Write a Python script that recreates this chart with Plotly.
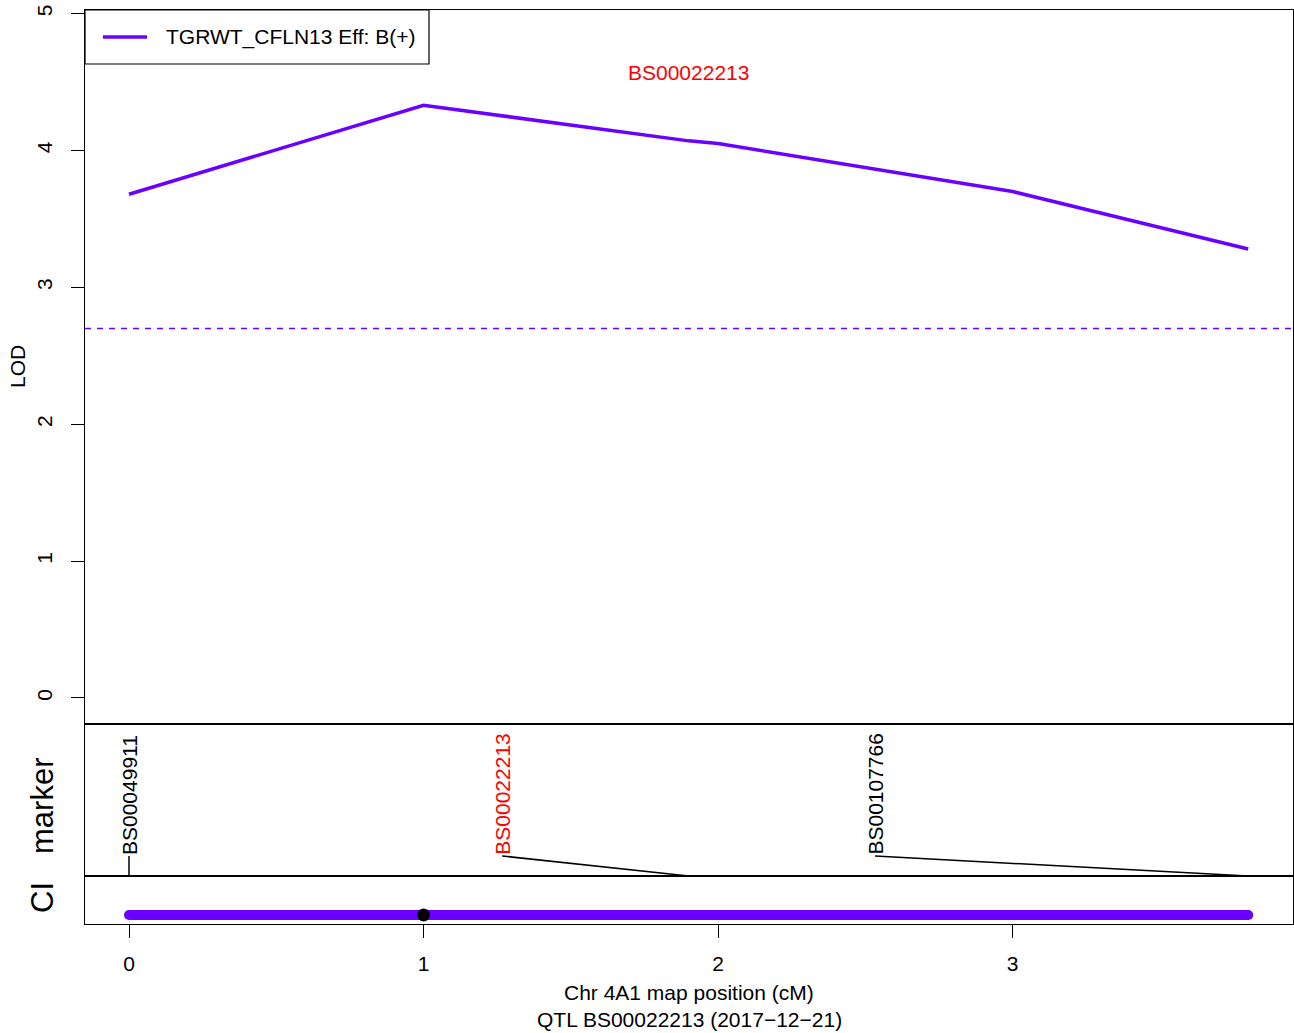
import plotly.graph_objects as go

# ---- data ----
lod_pos = [0.0, 1.0, 1.9, 2.0, 3.0, 3.8]
lod_val = [3.68, 4.33, 4.07, 4.05, 3.70, 3.28]
threshold = 2.70
trait_name = "TGRWT_CFLN13 Eff: B(+)"

marker_names = ["BS00049911", "BS00022213", "BS00107766"]
marker_pos = [0.0, 1.9, 3.8]
marker_label_pos = [0.0, 1.267, 2.533]
marker_colors = ["black", "red", "black"]
peak_marker = "BS00022213"
peak_marker_pos = 1.9
peak_label_lod = 4.57

ci_range = [0.0, 3.8]
peak_pos = 1.0

x_ticks = [0, 1, 2, 3]
y_ticks = [0, 1, 2, 3, 4, 5]

PURPLE = "#6A00FF"
FONT = "Liberation Sans, Arial, sans-serif"
FS = 21

W, H = 1294, 1033
L, R, T, B = 85, 1, 10, 109
plot_h = H - T - B  # 914
plot_w = W - L - R

def py(px_y):
    return (H - B - px_y) / plot_h

def px(px_x):
    return (px_x - L) / plot_w

fig = go.Figure()

# LOD curve
fig.add_trace(go.Scatter(x=lod_pos, y=lod_val, mode="lines",
                         line=dict(color=PURPLE, width=3.5),
                         xaxis="x", yaxis="y", showlegend=False, hoverinfo="skip"))

# marker connectors
mx, my = [], []
for lp, mp in zip(marker_label_pos, marker_pos):
    mx += [lp, mp, None]
    my += [0.1316, 0.0, None]
fig.add_trace(go.Scatter(x=mx, y=my, mode="lines", line=dict(color="black", width=1.5),
                         xaxis="x2", yaxis="y2", showlegend=False, hoverinfo="skip"))

# CI bar
fig.add_trace(go.Scatter(x=ci_range, y=[0.1875, 0.1875], mode="lines+markers",
                         line=dict(color=PURPLE, width=10),
                         marker=dict(color=PURPLE, size=10),
                         xaxis="x3", yaxis="y3", showlegend=False, hoverinfo="skip"))
fig.add_trace(go.Scatter(x=[peak_pos], y=[0.1875], mode="markers",
                         marker=dict(color="black", size=13),
                         xaxis="x3", yaxis="y3", showlegend=False, hoverinfo="skip"))

xr = [-0.1494, 3.952]
d_top = [py(724), 1.0]
d_mid = [py(876), py(724)]
d_bot = [0.0, py(876)]

axline = dict(showline=True, mirror=True, linecolor="black", linewidth=1.2,
              showgrid=False, zeroline=False)

fig.update_layout(
    width=W, height=H, autosize=False,
    margin=dict(l=L, r=R, t=T, b=B, pad=0),
    paper_bgcolor="white", plot_bgcolor="white",
    font=dict(family=FONT, size=FS, color="black"),
    xaxis=dict(range=xr, domain=[0, 1], anchor="y", showticklabels=False, ticks="", **axline),
    xaxis2=dict(range=xr, domain=[0, 1], anchor="y2", showticklabels=False, ticks="", **axline),
    xaxis3=dict(range=xr, domain=[0, 1], anchor="y3", tickvals=x_ticks,
                ticktext=[str(v) for v in x_ticks], ticks="outside", ticklen=13,
                tickwidth=1.2, tickcolor="black", ticklabelstandoff=8,
                tickfont=dict(size=FS), **axline),
    yaxis=dict(range=[-0.19, 5.026], domain=d_top, anchor="x", tickvals=y_ticks,
               ticktext=[str(v) for v in y_ticks], ticks="outside", ticklen=13,
               tickwidth=1.2, tickcolor="black", tickangle=-90, ticklabelstandoff=11,
               tickfont=dict(size=FS), **axline),
    yaxis2=dict(range=[0, 1], domain=d_mid, anchor="x2", showticklabels=False, ticks="", **axline),
    yaxis3=dict(range=[0, 1], domain=d_bot, anchor="x3", showticklabels=False, ticks="", **axline),
)

# threshold
fig.add_shape(type="line", xref="x domain", yref="y", x0=0, x1=1, y0=threshold, y1=threshold,
              line=dict(color=PURPLE, width=1.5, dash="6px,6px"))

# legend (manual, R-style)
fig.add_shape(type="rect", xref="paper", yref="paper", x0=0, x1=px(429), y0=py(64), y1=1.0,
              line=dict(color="black", width=1.2), fillcolor="white")
fig.add_shape(type="line", xref="paper", yref="paper", x0=px(103), x1=px(147), y0=py(37), y1=py(37),
              line=dict(color=PURPLE, width=3.5))
fig.add_annotation(text=trait_name, xref="paper", yref="paper", x=px(164), y=py(37),
                   xanchor="left", yanchor="middle", showarrow=False, font=dict(size=FS))

# peak marker label at top
fig.add_annotation(text=peak_marker, xref="x", yref="y", x=peak_marker_pos, y=peak_label_lod,
                   xanchor="center", yanchor="middle", showarrow=False,
                   font=dict(size=FS, color="red"))

# marker labels (rotated)
for name, lp, c in zip(marker_names, marker_label_pos, marker_colors):
    fig.add_annotation(text=name, xref="x2", yref="y2", x=lp, y=0.1316,
                       xanchor="center", yanchor="bottom", textangle=-90, showarrow=False,
                       font=dict(size=FS, color=c), borderpad=0)

# axis titles
fig.add_annotation(text="LOD", xref="paper", yref="paper", x=px(17), y=py(367),
                   xanchor="center", yanchor="middle", textangle=-90, showarrow=False,
                   font=dict(size=FS))
fig.add_annotation(text="marker", xref="paper", yref="paper", x=px(42), y=py(806),
                   xanchor="center", yanchor="middle", textangle=-90, showarrow=False,
                   font=dict(size=31))
fig.add_annotation(text="CI", xref="paper", yref="paper", x=px(42), y=py(898),
                   xanchor="center", yanchor="middle", textangle=-90, showarrow=False,
                   font=dict(size=31))
fig.add_annotation(text="Chr 4A1 map position (cM)", xref="paper", yref="paper",
                   x=px(689), y=py(992), xanchor="center", yanchor="middle",
                   showarrow=False, font=dict(size=FS))
fig.add_annotation(text="QTL BS00022213 (2017\u221212\u221221)", xref="paper", yref="paper",
                   x=px(689), y=py(1019), xanchor="center", yanchor="middle",
                   showarrow=False, font=dict(size=FS))

fig.write_html("out.html", config={"displayModeBar": False},
               post_script="document.body.style.margin='0';document.body.style.overflow='hidden';")
